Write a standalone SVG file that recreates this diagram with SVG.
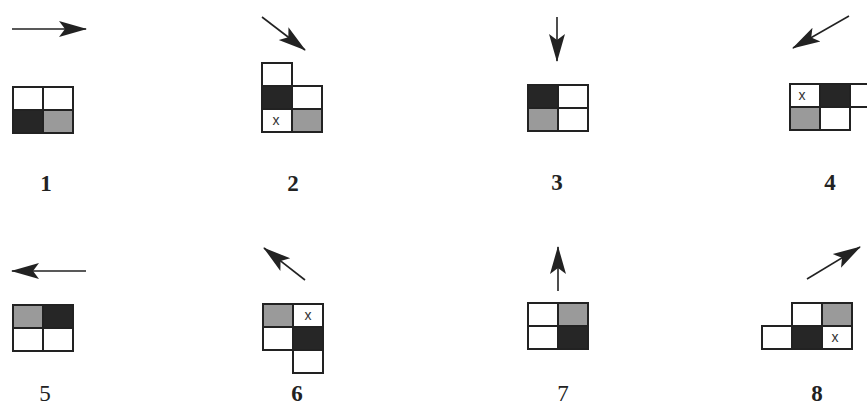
<svg xmlns="http://www.w3.org/2000/svg" width="867" height="407" viewBox="0 0 867 407">
<style>
.c{stroke:#222;stroke-width:2;fill:#fff}
.b{fill:#262626}
.g{fill:#9a9a9a}
.a{stroke:#222;stroke-width:1.6;fill:none;marker-end:url(#ah)}
.n{font-family:"Liberation Serif",serif;font-weight:bold;font-size:23px;fill:#222;text-anchor:middle}
.m{font-weight:normal}
.x{font-family:"Liberation Sans",sans-serif;font-size:14px;fill:#333;text-anchor:middle}
</style>
<defs>
<marker id="ah" markerWidth="28" markerHeight="18" refX="27" refY="9" orient="auto" markerUnits="userSpaceOnUse">
<path d="M0,1 L28,9 L0,17 L6,9 z" fill="#222"/>
</marker>
</defs>
<g id="connectors">
<line class="a" x1="12" y1="29" x2="86" y2="29"/>
<line class="a" x1="262" y1="17" x2="305" y2="50"/>
<line class="a" x1="557" y1="17" x2="557" y2="61"/>
<line class="a" x1="849" y1="16" x2="793" y2="48"/>
<line class="a" x1="86" y1="271" x2="12" y2="271"/>
<line class="a" x1="305" y1="280" x2="264" y2="248"/>
<line class="a" x1="558" y1="291" x2="558" y2="247"/>
<line class="a" x1="807" y1="279" x2="860" y2="247"/>
</g>
<g id="p1">
<rect class="c" x="13" y="87" width="30" height="23"/>
<rect class="c" x="43" y="87" width="30" height="23"/>
<rect class="c b" x="13" y="110" width="30" height="23"/>
<rect class="c g" x="43" y="110" width="30" height="23"/>
<text class="n" x="46" y="191">1</text>
</g>
<g id="p2">
<rect class="c" x="262" y="63" width="30" height="23"/>
<rect class="c b" x="262" y="86" width="30" height="23"/>
<rect class="c" x="292" y="86" width="30" height="23"/>
<rect class="c" x="262" y="109" width="30" height="23"/>
<rect class="c g" x="292" y="109" width="30" height="23"/>
<text class="x" x="276" y="125">x</text>
<text class="n" x="293" y="191">2</text>
</g>
<g id="p3">
<rect class="c b" x="528" y="85" width="30" height="23"/>
<rect class="c" x="558" y="85" width="30" height="23"/>
<rect class="c g" x="528" y="108" width="30" height="23"/>
<rect class="c" x="558" y="108" width="30" height="23"/>
<text class="n" x="557" y="190">3</text>
</g>
<g id="p4">
<rect class="c" x="790" y="84" width="30" height="23"/>
<rect class="c b" x="820" y="84" width="30" height="23"/>
<rect class="c" x="850" y="84" width="30" height="23"/>
<rect class="c g" x="790" y="107" width="30" height="23"/>
<rect class="c" x="820" y="107" width="30" height="23"/>
<text class="x" x="802" y="100">x</text>
<text class="n" x="830" y="190">4</text>
</g>
<g id="p5">
<rect class="c g" x="13" y="305" width="30" height="23"/>
<rect class="c b" x="43" y="305" width="30" height="23"/>
<rect class="c" x="13" y="328" width="30" height="23"/>
<rect class="c" x="43" y="328" width="30" height="23"/>
<text class="n m" x="45" y="401">5</text>
</g>
<g id="p6">
<rect class="c g" x="263" y="304" width="30" height="23"/>
<rect class="c" x="293" y="304" width="30" height="23"/>
<rect class="c" x="263" y="327" width="30" height="23"/>
<rect class="c b" x="293" y="327" width="30" height="23"/>
<rect class="c" x="293" y="350" width="30" height="23"/>
<text class="x" x="308" y="320">x</text>
<text class="n" x="297" y="401">6</text>
</g>
<g id="p7">
<rect class="c" x="528" y="303" width="30" height="23"/>
<rect class="c g" x="558" y="303" width="30" height="23"/>
<rect class="c" x="528" y="326" width="30" height="23"/>
<rect class="c b" x="558" y="326" width="30" height="23"/>
<text class="n m" x="563" y="401">7</text>
</g>
<g id="p8">
<rect class="c" x="792" y="303" width="30" height="23"/>
<rect class="c g" x="822" y="303" width="30" height="23"/>
<rect class="c" x="762" y="326" width="30" height="23"/>
<rect class="c b" x="792" y="326" width="30" height="23"/>
<rect class="c" x="822" y="326" width="30" height="23"/>
<text class="x" x="835" y="342">x</text>
<text class="n" x="817" y="401">8</text>
</g>
</svg>
